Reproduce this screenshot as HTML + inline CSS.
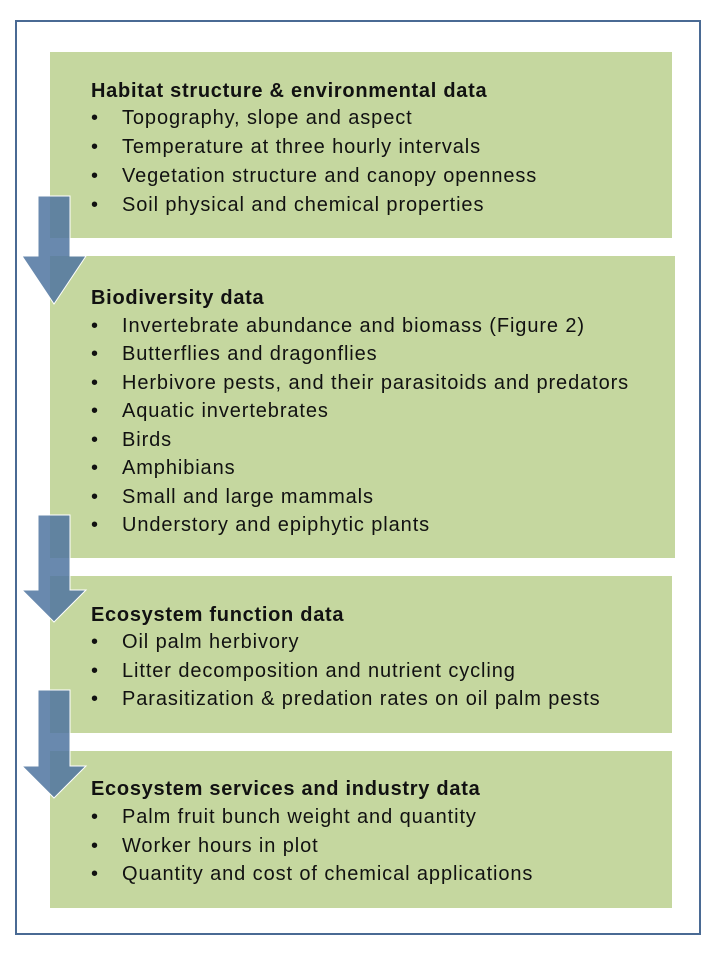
<!DOCTYPE html>
<html><head><meta charset="utf-8"><style>
body{margin:0;width:720px;height:960px;background:#fff;position:relative;overflow:hidden;font-family:"Liberation Sans",sans-serif;color:#111}
.outer{position:absolute;left:15px;top:20px;width:686px;height:915px;border:2px solid #4a6a94;box-sizing:border-box}
.box{position:absolute;left:50px;width:622px;background:#c5d79f}
.t{position:absolute;left:91px;font-size:20px;line-height:22px;white-space:nowrap;margin-top:1px}
.b{font-weight:bold;letter-spacing:0.72px}
.i{left:122px;letter-spacing:0.9px}
.i::before{content:"•";position:absolute;left:-31px}
svg{position:absolute;left:0;top:0}
</style></head><body>
<div class="outer"></div>
<div class="box" style="top:52px;height:186px"></div>
<div class="box" style="top:256px;height:302px;width:625px"></div>
<div class="box" style="top:576px;height:157px"></div>
<div class="box" style="top:751px;height:157px"></div>

<div class="t b" style="top:79px">Habitat structure &amp; environmental data</div>
<div class="t i" style="top:106px">Topography, slope and aspect</div>
<div class="t i" style="top:135px">Temperature at three hourly intervals</div>
<div class="t i" style="top:164px">Vegetation structure and canopy openness</div>
<div class="t i" style="top:193px">Soil physical and chemical properties</div>

<div class="t b" style="top:286px">Biodiversity data</div>
<div class="t i" style="top:314px">Invertebrate abundance and biomass (Figure 2)</div>
<div class="t i" style="top:342px">Butterflies and dragonflies</div>
<div class="t i" style="top:371px">Herbivore pests, and their parasitoids and predators</div>
<div class="t i" style="top:399px">Aquatic invertebrates</div>
<div class="t i" style="top:428px">Birds</div>
<div class="t i" style="top:456px">Amphibians</div>
<div class="t i" style="top:485px">Small and large mammals</div>
<div class="t i" style="top:513px">Understory and epiphytic plants</div>

<div class="t b" style="top:603px">Ecosystem function data</div>
<div class="t i" style="top:630px">Oil palm herbivory</div>
<div class="t i" style="top:659px">Litter decomposition and nutrient cycling</div>
<div class="t i" style="top:687px">Parasitization &amp; predation rates on oil palm pests</div>

<div class="t b" style="top:777px">Ecosystem services and industry data</div>
<div class="t i" style="top:805px">Palm fruit bunch weight and quantity</div>
<div class="t i" style="top:834px">Worker hours in plot</div>
<div class="t i" style="top:862px">Quantity and cost of chemical applications</div>

<svg width="720" height="960">
<g fill="#4f74a0" fill-opacity="0.85" stroke="#fff" stroke-width="1">
<polygon points="38,196 70,196 70,256 86,256 54,304 22,256 38,256"/>
<polygon points="38,515 70,515 70,590 86,590 54,622 22,590 38,590"/>
<polygon points="38,690 70,690 70,766 86,766 54,798 22,766 38,766"/>
</g>
</svg>
</body></html>
